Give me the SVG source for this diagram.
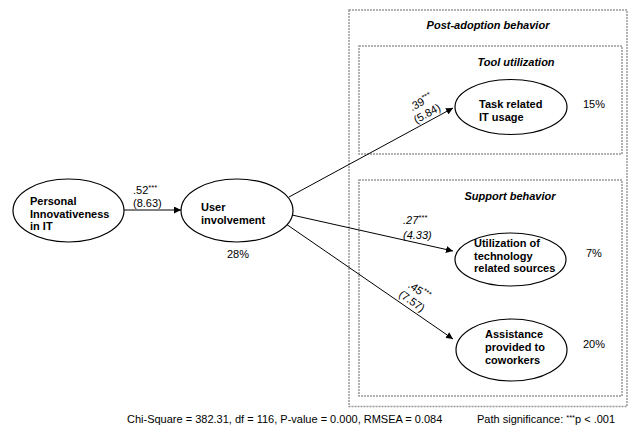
<svg xmlns="http://www.w3.org/2000/svg" width="630" height="435" viewBox="0 0 630 435">
<style>
text{font-family:"Liberation Sans",Arial,sans-serif;fill:#000}
.n{font-size:11px;font-weight:bold}
.l{font-size:11px}
.s{font-size:7.5px}
.t{font-size:11px;font-weight:bold;font-style:italic}
.f{font-size:11px}
.box{fill:none;stroke:#999;stroke-width:1.5;stroke-dasharray:2 1}
.el{fill:#fff;stroke:#000;stroke-width:1.2}
.c{stroke:#000;stroke-width:1;fill:none;marker-end:url(#ah)}
</style>
<defs>
<marker id="ah" viewBox="0 0 10 10" refX="10" refY="5" markerWidth="7" markerHeight="7" orient="auto" markerUnits="userSpaceOnUse">
<path d="M0,0 L10,5 L0,10 z" fill="#000"/>
</marker>
</defs>
<rect fill="#fff" x="0" y="0" width="630" height="435"/>
<g id="post-adoption">
<rect class="box" x="349" y="10" width="278" height="396.5"/>
<text class="t" x="488" y="29" text-anchor="middle">Post-adoption behavior</text>
</g>
<g id="tool-utilization">
<rect class="box" x="359" y="46" width="263" height="108"/>
<text class="t" x="516" y="66" text-anchor="middle">Tool utilization</text>
</g>
<g id="support-behavior">
<rect class="box" x="359" y="180" width="263" height="216"/>
<text class="t" x="510" y="200" text-anchor="middle">Support behavior</text>
</g>
<g id="connectors">
<line class="c" x1="124" y1="210" x2="181" y2="210"/>
<line class="c" x1="289" y1="197" x2="453" y2="108"/>
<line class="c" x1="292" y1="215" x2="453" y2="251"/>
<line class="c" x1="286" y1="224" x2="453" y2="339"/>
<text class="l" x="133" y="194">.52<tspan class="s" dy="-4">***</tspan></text>
<text class="l" x="133" y="207">(8.63)</text>
<g transform="translate(424,108) rotate(-28.6)">
<text class="l" x="0" y="-3" text-anchor="middle">.39<tspan class="s" dy="-4">***</tspan></text>
<text class="l" x="0" y="10" text-anchor="middle">(5.84)</text>
</g>
<text class="l" x="403" y="224" font-style="italic">.27<tspan class="s" dy="-4">***</tspan></text>
<text class="l" x="403" y="239" font-style="italic">(4.33)</text>
<g transform="translate(415.5,296) rotate(34.7)">
<text class="l" x="0" y="-3" text-anchor="middle">.45<tspan class="s" dy="-4">***</tspan></text>
<text class="l" x="0" y="10" text-anchor="middle">(7.57)</text>
</g>
</g>
<g id="personal-innovativeness">
<ellipse class="el" cx="68.5" cy="210.5" rx="55.5" ry="31.5"/>
<text class="n" x="30" y="205">Personal</text>
<text class="n" x="30" y="217.5">Innovativeness</text>
<text class="n" x="30" y="230">in IT</text>
</g>
<g id="user-involvement">
<ellipse class="el" cx="237" cy="210.5" rx="56" ry="31.5"/>
<text class="n" x="201" y="211">User</text>
<text class="n" x="201" y="224">involvement</text>
<text class="l" x="227" y="258">28%</text>
</g>
<g id="task-it-usage">
<ellipse class="el" cx="511" cy="107" rx="56" ry="27.5"/>
<text class="n" x="479" y="108">Task related</text>
<text class="n" x="479" y="121">IT usage</text>
<text class="l" x="583" y="108">15%</text>
</g>
<g id="utilization-sources">
<ellipse class="el" cx="510.5" cy="259.5" rx="55.5" ry="26.5"/>
<text class="n" x="474" y="247">Utilization of</text>
<text class="n" x="474" y="259.5">technology</text>
<text class="n" x="474" y="272">related sources</text>
<text class="l" x="586" y="257">7%</text>
</g>
<g id="assistance-coworkers">
<ellipse class="el" cx="511.5" cy="350" rx="55.5" ry="31"/>
<text class="n" x="485" y="338">Assistance</text>
<text class="n" x="485" y="351">provided to</text>
<text class="n" x="485" y="364">coworkers</text>
<text class="l" x="583" y="348">20%</text>
</g>
<text class="f" x="127" y="423">Chi-Square = 382.31, df = 116, P-value = 0.000, RMSEA = 0.084</text>
<text class="f" x="477" y="423">Path significance: <tspan class="s" dy="-3">***</tspan><tspan dy="3">p &lt; .001</tspan></text>
</svg>
